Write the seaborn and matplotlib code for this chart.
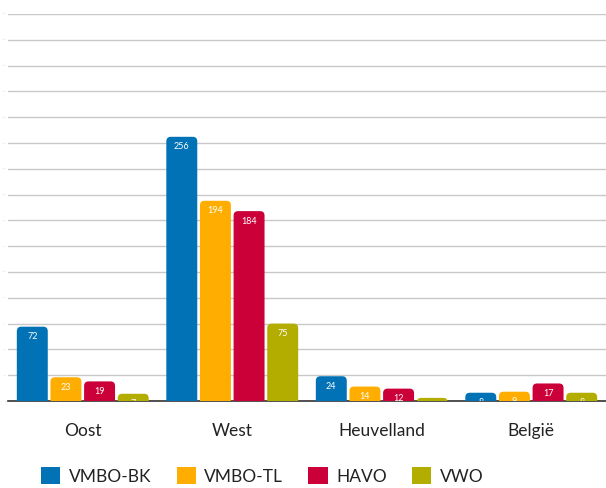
import matplotlib
matplotlib.use("Agg")
import matplotlib.pyplot as plt
from matplotlib.patches import FancyBboxPatch, Patch
import pandas as pd
import seaborn as sns

regions = ["Oost", "West", "Heuvelland", "België"]
series = ["VMBO-BK", "VMBO-TL", "HAVO", "VWO"]
vmbo_bk = [72, 256, 24, 8]
vmbo_tl = [23, 194, 14, 9]
havo = [19, 184, 12, 17]
vwo = [7, 75, 3, 8]
colors = ["#0072b5", "#ffad00", "#cc0039", "#b3ad00"]
yticks = list(range(0, 376, 25))

rows = []
for name, vals in zip(series, [vmbo_bk, vmbo_tl, havo, vwo]):
    for reg, v in zip(regions, vals):
        rows.append({"regio": reg, "niveau": name, "aantal": v})
df = pd.DataFrame(rows)

sns.set_style("white")
plt.rcParams["font.family"] = ["Lato", "DejaVu Sans"]

fig = plt.figure(figsize=(6.06, 4.88), dpi=100)
ax = fig.add_axes([8 / 606, 1 - 401 / 488, 598 / 606, 387 / 488])

sns.barplot(data=df, x="regio", y="aantal", hue="niveau", order=regions,
            hue_order=series, palette=colors, width=0.9, gap=0.08,
            saturation=1, ax=ax, legend=False)

# swap plain bars for rounded ones
ppx = 600 / 4.0
ppy = 387 / 375.0
r_px = 4.5
bars = list(ax.patches)
for b in bars:
    x, w, h = b.get_x(), b.get_width(), b.get_height()
    fc = b.get_facecolor()
    b.remove()
    box = FancyBboxPatch((x, -8), w, h + 8,
                         boxstyle="round,pad=0,rounding_size=%f" % (r_px / ppx),
                         mutation_aspect=ppx / ppy, fc=fc, ec="none",
                         clip_on=True, zorder=3)
    ax.add_patch(box)
    ax.text(x + w / 2, h - 10 / ppy, "%d" % h, ha="center", va="center",
            color="white", fontsize=6.5, zorder=4, clip_on=True)

ax.set_xlim(-0.5, 3.5)
ax.set_ylim(0, 375)
ax.set_yticks(yticks)
ax.set_yticklabels([str(v) for v in yticks], fontsize=1.5, color="#cccccc")
ax.tick_params(axis="y", length=0, pad=1)
ax.tick_params(axis="x", length=0, pad=16, labelsize=12.5, labelcolor="#222222")
ax.yaxis.grid(True, color="#c8c8c8", linewidth=1)
ax.set_axisbelow(True)
ax.set_xlabel("")
ax.set_ylabel("")
for s in ["top", "right", "left"]:
    ax.spines[s].set_visible(False)
ax.spines["bottom"].set_color("#333333")
ax.spines["bottom"].set_linewidth(1.2)

handles = [Patch(facecolor=c, edgecolor="none") for c in colors]
fig.legend(handles, series, loc="center", bbox_to_anchor=(0.433, 1 - 476 / 488),
           ncol=4, frameon=False, fontsize=12.5, handlelength=1.1,
           handleheight=1.15, handletextpad=0.5, columnspacing=1.45,
           labelcolor="#222222", borderpad=0, borderaxespad=0)

fig.savefig("out.png", dpi=100)
